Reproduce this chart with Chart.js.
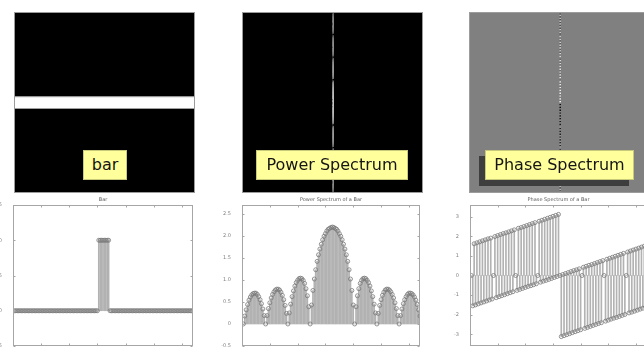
<!DOCTYPE html>
<html>
<head>
<meta charset="utf-8">
<script src="https://cdn.jsdelivr.net/npm/chart.js@4.4.1/dist/chart.umd.min.js"></script>
<style>
  html, body { margin: 0; padding: 0; background: #fff; }
  body { position: relative; width: 644px; height: 349px; overflow: hidden; font-family: "DejaVu Sans", sans-serif; }
  canvas { position: absolute; display: block; }
  canvas.plot { filter: blur(0.45px); }
  .tag { position: absolute; height: 30px; box-sizing: border-box; background: #ffff9c; border: 1px solid #c9c97c;
         color: #151515; font: 16px "DejaVu Sans", sans-serif; line-height: 28px; text-align: center; white-space: nowrap; }
  .shade { position: absolute; height: 30px; background: #3e3e3e; }
</style>
</head>
<body>
<canvas id="imgBar"   width="181" height="181" style="left:14px;top:12px"></canvas>
<canvas id="imgPower" width="181" height="181" style="left:242px;top:12px"></canvas>
<canvas id="imgPhase" width="181" height="181" style="left:469px;top:12px"></canvas>

<div class="tag" style="left:83px;top:150px;width:44px">bar</div>
<div class="tag" style="left:256px;top:150px;width:152px">Power Spectrum</div>
<div class="shade" style="left:479px;top:156px;width:150px"></div>
<div class="tag" style="left:485px;top:150px;width:149px">Phase Spectrum</div>

<canvas id="plotBar"   class="plot" width="215" height="160" style="left:0px;top:195px"></canvas>
<canvas id="plotPower" class="plot" width="215" height="160" style="left:215px;top:195px"></canvas>
<canvas id="plotPhase" class="plot" width="230" height="160" style="left:430px;top:195px"></canvas>

<script>
// One row of the 128-sample bar signal (1 inside the bar, 0 elsewhere)
const barValues = [
  0,0,0,0,0,0,0,0,0,0,0,0,0,0,0,0,
  0,0,0,0,0,0,0,0,0,0,0,0,0,0,0,0,
  0,0,0,0,0,0,0,0,0,0,0,0,0,0,0,0,
  0,0,0,0,0,0,0,0,0,0,0,0,1,1,1,1,
  1,1,1,1,0,0,0,0,0,0,0,0,0,0,0,0,
  0,0,0,0,0,0,0,0,0,0,0,0,0,0,0,0,
  0,0,0,0,0,0,0,0,0,0,0,0,0,0,0,0,
  0,0,0,0,0,0,0,0,0,0,0,0,0,0,0,0
];

// Centred power spectrum of the bar, log(1+|F|), frequencies -64 .. 63
const powerValues = [
  0, 0.18, 0.32, 0.44, 0.54, 0.61, 0.66, 0.69, 0.70, 0.70, 0.67, 0.62, 0.55, 0.46, 0.34, 0.19,
  0, 0.19, 0.35, 0.48, 0.59, 0.67, 0.73, 0.77, 0.79, 0.79, 0.77, 0.72, 0.65, 0.55, 0.42, 0.24,
  0, 0.25, 0.45, 0.62, 0.75, 0.86, 0.94, 0.99, 1.03, 1.04, 1.03, 0.99, 0.92, 0.80, 0.64, 0.39,
  0, 0.43, 0.76, 1.02, 1.23, 1.42, 1.57, 1.70, 1.81, 1.91, 1.99, 2.05, 2.11, 2.15, 2.17, 2.19,
  2.20, 2.19, 2.17, 2.15, 2.11, 2.05, 1.99, 1.91, 1.81, 1.70, 1.57, 1.42, 1.23, 1.02, 0.76, 0.43,
  0, 0.39, 0.64, 0.80, 0.92, 0.99, 1.03, 1.04, 1.03, 0.99, 0.94, 0.86, 0.75, 0.62, 0.45, 0.25,
  0, 0.24, 0.42, 0.55, 0.65, 0.72, 0.77, 0.79, 0.79, 0.77, 0.73, 0.67, 0.59, 0.48, 0.35, 0.19,
  0, 0.19, 0.34, 0.46, 0.55, 0.62, 0.67, 0.70, 0.70, 0.69, 0.66, 0.61, 0.54, 0.44, 0.32, 0.18
];

// Centred phase spectrum of the bar (radians), frequencies -64 .. 63
const phaseValues = [
  0, -1.55, 1.62, -1.50, 1.67, -1.45, 1.72, -1.40, 1.77, -1.35, 1.82, -1.30, 1.87, -1.25, 1.91, -1.20,
  0, 1.99, -1.13, 2.04, -1.08, 2.09, -1.03, 2.14, -0.98, 2.18, -0.93, 2.23, -0.88, 2.28, -0.83, 2.33,
  0, -0.76, 2.41, -0.71, 2.45, -0.66, 2.50, -0.61, 2.55, -0.56, 2.60, -0.52, 2.65, -0.47, 2.70, -0.42,
  0, 2.77, -0.34, 2.82, -0.29, 2.87, -0.25, 2.92, -0.20, 2.97, -0.15, 3.02, -0.10, 3.07, -0.05, 3.12,
  0, -3.12, 0.05, -3.07, 0.10, -3.02, 0.15, -2.97, 0.20, -2.92, 0.25, -2.87, 0.29, -2.82, 0.34, -2.77,
  0, 0.42, -2.70, 0.47, -2.65, 0.52, -2.60, 0.56, -2.55, 0.61, -2.50, 0.66, -2.45, 0.71, -2.41, 0.76,
  0, -2.33, 0.83, -2.28, 0.88, -2.23, 0.93, -2.18, 0.98, -2.14, 1.03, -2.09, 1.08, -2.04, 1.13, -1.99,
  0, 1.20, -1.91, 1.25, -1.87, 1.30, -1.82, 1.35, -1.77, 1.40, -1.72, 1.45, -1.67, 1.50, -1.62, 1.55
];

const imageSize = 128;          // image is 128 x 128 pixels
const dcColumn = 64;            // zero-frequency column after centring
const sampleTicks = [0, 20, 40, 60, 80, 100, 120];
const barTicks   = [-0.5, 0, 0.5, 1, 1.5];
const powerTicks = [-0.5, 0, 0.5, 1, 1.5, 2, 2.5];
const phaseTicks = [-3, -2, -1, 0, 1, 2, 3];

const titles = { bar: 'Bar', power: 'Power Spectrum of a Bar', phase: 'Phase Spectrum of a Bar' };

// ---------- plugins ----------
// Paints the image field and its thin outline
const fieldPlugin = {
  id: 'field',
  beforeDatasetsDraw(chart, args, opts) {
    const { ctx, chartArea: a } = chart;
    ctx.save();
    ctx.fillStyle = opts.color;
    ctx.fillRect(a.left, a.top, a.right - a.left, a.bottom - a.top);
    ctx.restore();
  },
  afterDatasetsDraw(chart, args, opts) {
    const { ctx, chartArea: a } = chart;
    ctx.save();
    ctx.strokeStyle = opts.edge;
    ctx.lineWidth = 1;
    ctx.strokeRect(a.left + 0.5, a.top + 0.5, a.right - a.left - 1, a.bottom - a.top - 1);
    ctx.restore();
  }
};

// Boxed axes with short inward tick marks on all four sides
const framePlugin = {
  id: 'frame',
  afterDatasetsDraw(chart, args, opts) {
    const { ctx, chartArea: a, scales } = chart;
    const x = scales.x, y = scales.y, L = opts.tick;
    const l = Math.round(a.left) + 0.5, r = Math.round(a.right) - 0.5;
    const t = Math.round(a.top) + 0.5, b = Math.round(a.bottom) - 0.5;
    ctx.save();
    ctx.strokeStyle = opts.color;
    ctx.lineWidth = 1;
    ctx.strokeRect(l, t, r - l, b - t);
    ctx.beginPath();
    x.ticks.forEach(tk => {
      const px = Math.round(x.getPixelForValue(tk.value)) + 0.5;
      ctx.moveTo(px, b); ctx.lineTo(px, b - L);
      ctx.moveTo(px, t); ctx.lineTo(px, t + L);
    });
    y.ticks.forEach(tk => {
      const py = Math.round(y.getPixelForValue(tk.value)) + 0.5;
      ctx.moveTo(l, py); ctx.lineTo(l + L, py);
      ctx.moveTo(r, py); ctx.lineTo(r - L, py);
    });
    ctx.stroke();
    ctx.restore();
  }
};

// ---------- image panels ----------
function imageChart(id, background, datasets) {
  return new Chart(document.getElementById(id), {
    type: 'scatter',
    data: { datasets },
    options: {
      responsive: false, animation: false, events: [],
      layout: { padding: 0 },
      plugins: { legend: { display: false }, tooltip: { enabled: false },
                 field: { color: background, edge: '#9c9c9c' } },
      scales: {
        x: { type: 'linear', min: 0, max: imageSize, display: false },
        y: { type: 'linear', min: 0, max: imageSize, reverse: true, display: false }
      }
    },
    plugins: [fieldPlugin]
  });
}

// rows of the image that hold the bar
const barRows = barValues.map((v, i) => (v > 0 ? i : -1)).filter(i => i >= 0);
const bandTop = barRows[0], bandBottom = barRows[barRows.length - 1] + 1;

imageChart('imgBar', '#000', [
  { data: [{ x: 0, y: bandTop }, { x: imageSize, y: bandTop }], showLine: true, fill: '+1',
    backgroundColor: '#ffffff', borderColor: '#c4c4c4', borderWidth: 1, pointRadius: 0 },
  { data: [{ x: 0, y: bandBottom }, { x: imageSize, y: bandBottom }], showLine: true,
    borderColor: '#c4c4c4', borderWidth: 1, pointRadius: 0 }
]);

// one column of the 2-D spectrum: a point at every row edge, a coloured segment per row
function columnPoints(values) {
  const pts = values.map((v, r) => ({ x: dcColumn + 0.5, y: r }));
  pts.push({ x: dcColumn + 0.5, y: values.length });
  return pts;
}
const powerMax = Math.max(...powerValues);
function powerGrey(v) {
  const g = Math.round(195 * Math.pow(v / powerMax, 0.3));
  return `rgb(${g},${g},${g})`;
}
function phaseGrey(v) {
  const g = Math.round(255 * (v + Math.PI) / (2 * Math.PI));
  return `rgb(${g},${g},${g})`;
}

imageChart('imgPower', '#000', [
  { data: columnPoints(powerValues), showLine: true, borderWidth: 1.6, pointRadius: 0, borderCapStyle: 'square',
    borderColor: '#aaa', segment: { borderColor: c => powerGrey(powerValues[c.p0DataIndex]) } }
]);

imageChart('imgPhase', '#808080', [
  { data: columnPoints(phaseValues), showLine: true, borderWidth: 1.4, pointRadius: 0,
    borderColor: '#888', segment: { borderColor: c => phaseGrey(phaseValues[c.p0DataIndex]) } }
]);

// ---------- stem plots ----------
function stemChart(id, title, values, yMin, yMax, yTicks, axisWidth, padRight) {
  const pts = values.map((v, i) => ({ x: i + 1, y: v }));
  const tickFont = { size: 5, family: 'DejaVu Sans' };
  return new Chart(document.getElementById(id), {
    type: 'bar',
    data: {
      datasets: [
        { type: 'scatter', data: pts, order: 0, pointStyle: 'circle', pointRadius: 2,
          pointBorderWidth: 0.8, pointBorderColor: '#7a7a7a', pointBackgroundColor: 'rgba(0,0,0,0)' },
        { type: 'bar', data: pts, order: 1, barThickness: 1, backgroundColor: '#b2b2b2', borderWidth: 0 }
      ]
    },
    options: {
      responsive: false, animation: false, events: [],
      layout: { padding: { right: padRight, left: 0, top: 0, bottom: 0 } },
      plugins: {
        legend: { display: false }, tooltip: { enabled: false },
        title: { display: true, text: title, fullSize: false, color: '#5c5c5c',
                 font: { size: 5, family: 'DejaVu Sans', weight: 'normal' }, padding: { top: 2, bottom: 2 } },
        frame: { color: '#a6a6a6', tick: 2 }
      },
      scales: {
        x: {
          type: 'linear', min: 0, max: imageSize, offset: false,
          grid: { display: false }, border: { display: false },
          afterBuildTicks: s => { s.ticks = sampleTicks.map(v => ({ value: v })); },
          afterFit: s => { s.height = 9; },
          ticks: { font: tickFont, color: '#808080', padding: 2, maxRotation: 0, autoSkip: false }
        },
        y: {
          type: 'linear', min: yMin, max: yMax,
          grid: { display: false }, border: { display: false },
          afterBuildTicks: s => { s.ticks = yTicks.map(v => ({ value: v })); },
          afterFit: s => { s.width = axisWidth; },
          ticks: { font: tickFont, color: '#808080', padding: 3, autoSkip: false }
        }
      }
    },
    plugins: [framePlugin]
  });
}

stemChart('plotBar',   titles.bar,   barValues,   -0.5, 1.5, barTicks,   13, 22);
stemChart('plotPower', titles.power, powerValues, -0.5, 2.7, powerTicks, 27, 10);
stemChart('plotPhase', titles.phase, phaseValues, -3.6, 3.6, phaseTicks, 40, 13);
</script>
</body>
</html>
